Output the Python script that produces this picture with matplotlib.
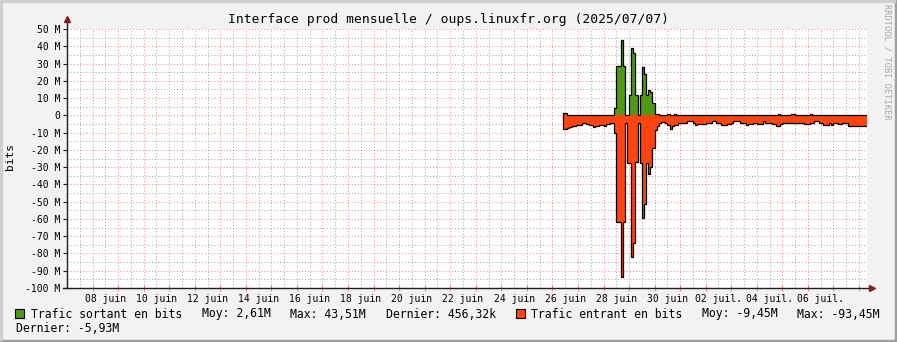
import matplotlib
matplotlib.use('Agg')
import matplotlib.pyplot as plt
import matplotlib.dates as mdates
from matplotlib.patches import Rectangle
from datetime import datetime, timedelta

plt.rcParams['font.family'] = 'DejaVu Sans Mono'

# --- data (Mbit/s, one value every 2 hours) ---
start = datetime(2025, 6, 26, 10, 0)
step = timedelta(hours=2)

sortant = [
    1.2, 1.2, 0.2, 0.2, 0.2, 0.2, 0.2, 0.2, 0.2, 0.2,
    0.2, 0.2, 0.2, 0.2, 0.2, 0.2, 0.2, 0.2, 0.2, 0.2,
    0.2, 0.2, 0.2, 0.2, 4.0, 28.5, 28.5, 43.51, 28.5, 0.0,
    0.0, 12.0, 39.0, 36.0, 12.0, 0.0, 12.0, 28.0, 24.0, 12.0,
    14.5, 13.5, 7.0, 1.0, 0.5, 0.2, 0.2, 0.2, 0.2, 1.0,
    0.2, 0.2, 1.0, 0.2, 0.2, 0.2, 0.2, 0.2, 0.2, 0.2,
    0.2, 0.2, 0.2, 0.2, 0.2, 0.2, 0.2, 0.2, 0.2, 0.2,
    0.2, 0.2, 0.2, 0.2, 0.2, 0.2, 0.2, 0.2, 0.2, 0.2,
    0.2, 0.2, 0.2, 0.2, 0.2, 0.2, 0.2, 0.2, 0.2, 0.2,
    0.2, 0.2, 0.2, 0.2, 0.2, 0.2, 0.2, 0.2, 0.2, 0.2,
    0.2, 1.0, 0.2, 0.2, 0.2, 0.2, 0.2, 1.0, 1.0, 0.2,
    0.2, 0.2, 0.2, 0.2, 0.2, 0.2, 1.0, 0.2, 0.2, 0.2,
    0.2, 0.2, 0.2, 0.2, 0.2, 0.2, 0.2, 0.2, 0.2, 0.2,
    0.2, 0.2, 0.2, 0.2, 0.2, 0.2, 0.2, 0.2, 0.2, 0.2,
    0.2, 0.2, 0.46,
]

entrant = [
    -8.0, -8.0, -7.2, -6.8, -6.2, -6.2, -5.6, -5.6, -5.4, -4.7,
    -4.7, -5.2, -5.4, -5.4, -6.8, -6.0, -6.0, -5.4, -5.4, -6.0,
    -5.0, -4.8, -4.6, -4.7, -10.4, -61.6, -61.6, -93.45, -61.6, -4.6,
    -27.8, -27.8, -82.0, -74.0, -27.0, -4.6, -27.8, -59.7, -51.4, -27.8,
    -34.0, -30.0, -19.0, -8.5, -6.0, -4.5, -3.7, -3.7, -4.3, -5.6,
    -8.1, -6.2, -5.6, -5.6, -4.6, -4.6, -4.6, -4.6, -3.1, -3.1,
    -3.1, -4.6, -5.6, -5.0, -5.0, -5.0, -5.0, -4.3, -4.3, -4.3,
    -3.1, -3.1, -4.6, -4.6, -5.6, -5.6, -5.6, -5.0, -5.0, -4.6,
    -3.1, -3.1, -3.1, -4.3, -4.3, -4.3, -5.6, -5.0, -5.0, -4.6,
    -4.6, -5.0, -5.0, -5.0, -3.1, -4.3, -4.3, -4.3, -5.0, -5.0,
    -6.2, -6.2, -5.0, -4.3, -4.3, -4.3, -4.3, -4.3, -4.3, -4.3,
    -4.6, -4.6, -4.6, -5.0, -5.0, -5.0, -4.3, -4.3, -3.1, -3.1,
    -4.3, -4.3, -5.6, -5.6, -5.6, -4.3, -5.6, -4.6, -4.6, -5.0,
    -5.0, -4.6, -4.6, -4.6, -6.2, -6.2, -6.2, -6.2, -6.2, -6.2,
    -6.2, -5.93, -5.93,
]

jours = ['08 juin', '10 juin', '12 juin', '14 juin', '16 juin', '18 juin',
         '20 juin', '22 juin', '24 juin', '26 juin', '28 juin', '30 juin',
         '02 juil.', '04 juil.', '06 juil.']
yvals = list(range(-100, 51, 10))

t_left = datetime(2025, 6, 7, 0, 0)
t_right = datetime(2025, 7, 8, 7, 30)

# --- colours (rrdtool defaults) ---
c_back = '#F2F2F2'
c_grid = (0.56, 0.56, 0.56, 0.75)
c_mgrid = (0.87, 0.31, 0.31, 0.6)
c_arrow = (0.5, 0.12, 0.12)
c_axis = (0.12, 0.12, 0.12)
c_out = '#4E9A16'
c_in = '#FF4411'

W, H = 897, 342
fig = plt.figure(figsize=(W / 100, H / 100), dpi=100, facecolor=c_back)


def fx(px):
    return px / W


def fy(py):
    return 1 - py / H


ax = fig.add_axes([fx(67), fy(288), fx(867) - fx(67), fy(29) - fy(288)])
ax.set_facecolor('white')

edges = mdates.date2num([start + k * step for k in range(len(sortant) + 1)])

# grid
for k in range(0, 32):
    day = t_left + timedelta(days=k)
    ax.axvline(mdates.date2num(day + timedelta(hours=12)), color=c_grid,
               lw=0.75, dashes=(1, 2), zorder=0)
    if k > 0:
        ax.axvline(mdates.date2num(day), color=c_mgrid, lw=0.75,
                   dashes=(1, 2), zorder=0)
for v in range(-100, 51, 5):
    col = c_mgrid if v % 10 == 0 else c_grid
    ax.axhline(v, color=col, lw=0.75, dashes=(1, 2), zorder=0)

# areas + black outline
ax.stairs(entrant, edges, baseline=0, fill=True, color=c_in, zorder=2)
ax.stairs(sortant, edges, baseline=0, fill=True, color=c_out, zorder=2)
ax.stairs(entrant, edges, baseline=0, color='black', lw=0.9, zorder=3)
ax.stairs(sortant, edges, baseline=0, color='black', lw=0.9, zorder=3)

ax.set_xlim(mdates.date2num(t_left), mdates.date2num(t_right))
ax.set_ylim(-100, 50)

# axes
for s in ax.spines.values():
    s.set_visible(False)
ax.plot([0, 0], [0, 1.035], transform=ax.transAxes, color=c_axis, lw=1,
        clip_on=False, zorder=4)
ax.plot([-0.005, 1.004], [0, 0], transform=ax.transAxes, color=c_axis, lw=1,
        clip_on=False, zorder=4)
ax.plot(0, 1.04, marker='^', ms=4.5, color=c_arrow, transform=ax.transAxes,
        clip_on=False, zorder=5)
ax.plot(1.006, 0, marker='>', ms=4.5, color=c_arrow, transform=ax.transAxes,
        clip_on=False, zorder=5)

# ticks
ax.set_yticks(yvals)
ax.set_yticklabels([('%d M' % v) if v != 0 else '0' for v in yvals])
ax.tick_params(axis='y', length=3, width=0.8, color=c_axis, pad=2,
               labelsize=7)
majors = [mdates.date2num(t_left + timedelta(days=k)) for k in range(1, 32)]
ax.set_xticks(majors)
ax.set_xticklabels([])
ax.tick_params(axis='x', which='major', length=4, direction='inout',
               width=0.8, color=c_mgrid)
noons = [mdates.date2num(datetime(2025, 6, 8, 12) + timedelta(days=2 * k))
         for k in range(len(jours))]
ax.set_xticks(noons, minor=True)
ax.set_xticklabels(jours, minor=True)
ax.tick_params(axis='x', which='minor', length=0, labelsize=7, pad=4)

# texts
fig.text(fx(448), fy(19), 'Interface prod mensuelle / oups.linuxfr.org (2025/07/07)',
         ha='center', va='center', fontsize=9.4)
fig.text(fx(10), fy(157), 'bits', rotation=90, ha='center', va='center',
         fontsize=8)
fig.text(fx(887), fy(4), 'RRDTOOL / TOBI OETIKER', rotation=270, ha='center',
         va='top', fontsize=6.2, color='#A8A8A8')

# legend
fig.patches.append(Rectangle((fx(15), fy(318)), 9 / W, 9 / H, facecolor=c_out,
                             edgecolor='black', lw=0.8, transform=fig.transFigure))
fig.patches.append(Rectangle((fx(516), fy(318)), 9 / W, 9 / H, facecolor=c_in,
                             edgecolor='black', lw=0.8, transform=fig.transFigure))
leg = [(31, 314, 'Trafic sortant en bits'), (202, 314, 'Moy: 2,61M'),
       (290, 314, 'Max: 43,51M'), (386, 314, 'Dernier: 456,32k'),
       (531, 314, 'Trafic entrant en bits'), (702, 314, 'Moy: -9,45M'),
       (797, 314, 'Max: -93,45M'), (16, 329, 'Dernier: -5,93M')]
for x, y, s in leg:
    fig.text(fx(x), fy(y), s, ha='left', va='center', fontsize=8.3)

# frame shading
fig.patches.append(Rectangle((0, 0), 1, 2 / H, color='#9E9E9E',
                             transform=fig.transFigure))
fig.patches.append(Rectangle((1 - 2 / W, 0), 2 / W, 1, color='#9E9E9E',
                             transform=fig.transFigure))
fig.patches.append(Rectangle((0, 1 - 2 / H), 1 - 2 / W, 2 / H, color='#CFCFCF',
                             transform=fig.transFigure))
fig.patches.append(Rectangle((0, 2 / H), 2 / W, 1 - 4 / H, color='#CFCFCF',
                             transform=fig.transFigure))

fig.savefig('out.png', dpi=100, facecolor=c_back)
